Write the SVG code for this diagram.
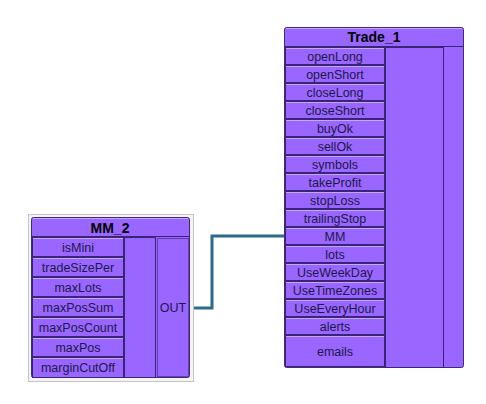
<svg xmlns="http://www.w3.org/2000/svg" width="486" height="404" viewBox="0 0 486 404">
<style>
.frame{fill:#9966ff;stroke:#3f2a80;stroke-width:1}
.btn{fill:#9966ff;stroke:#3a2478;stroke-width:1}
.hl{stroke:#c4a8ff;stroke-width:1}
.lbl{font-family:"Liberation Sans",Arial,sans-serif;font-size:12.5px;fill:#1e1848;text-anchor:middle}
.ttl{font-family:"Liberation Sans",Arial,sans-serif;font-size:14px;font-weight:bold;fill:#000;text-anchor:middle}
.col{fill:#9966ff;stroke:#3a2478;stroke-width:1}
.conn{fill:none;stroke:#2b6c8c;stroke-width:3}
</style>
<rect width="486" height="404" fill="#ffffff"/>
<g id="connectors">
<path class="conn" d="M190,308 H212 V236 H285"/>
</g>
<g id="MM_2">
<rect x="28.5" y="214.5" width="165" height="167" fill="#f4f4f4" stroke="#c4c4c4"/>
<rect class="frame" x="31.5" y="217.5" width="158" height="160" rx="2"/>
<line class="hl" x1="33" y1="218.5" x2="188" y2="218.5"/>
<line x1="31.5" y1="236.5" x2="189.5" y2="236.5" stroke="#3a2478"/>
<text class="ttl" x="110" y="233">MM_2</text>
<rect class="col" x="124.5" y="237.5" width="31" height="140"/>
<rect x="157.5" y="238.5" width="31" height="138" fill="#9966ff" stroke="#2a1a60" stroke-dasharray="1,1"/>
<text class="lbl" x="173" y="312">OUT</text>
<g>
<rect class="btn" x="32.5" y="237.5" width="91" height="19"/><line class="hl" x1="33" y1="238.5" x2="123" y2="238.5"/><text class="lbl" x="78" y="252">isMini</text>
<rect class="btn" x="32.5" y="257.5" width="91" height="19"/><line class="hl" x1="33" y1="258.5" x2="123" y2="258.5"/><text class="lbl" x="78" y="272">tradeSizePer</text>
<rect class="btn" x="32.5" y="277.5" width="91" height="19"/><line class="hl" x1="33" y1="278.5" x2="123" y2="278.5"/><text class="lbl" x="78" y="292">maxLots</text>
<rect class="btn" x="32.5" y="297.5" width="91" height="19"/><line class="hl" x1="33" y1="298.5" x2="123" y2="298.5"/><text class="lbl" x="78" y="312">maxPosSum</text>
<rect class="btn" x="32.5" y="317.5" width="91" height="19"/><line class="hl" x1="33" y1="318.5" x2="123" y2="318.5"/><text class="lbl" x="78" y="332">maxPosCount</text>
<rect class="btn" x="32.5" y="337.5" width="91" height="19"/><line class="hl" x1="33" y1="338.5" x2="123" y2="338.5"/><text class="lbl" x="78" y="352">maxPos</text>
<rect class="btn" x="32.5" y="357.5" width="91" height="20"/><line class="hl" x1="33" y1="358.5" x2="123" y2="358.5"/><text class="lbl" x="78" y="372">marginCutOff</text>
</g>
</g>
<g id="Trade_1">
<rect class="frame" x="284.5" y="27.5" width="179" height="340" rx="2"/>
<line class="hl" x1="286" y1="28.5" x2="462" y2="28.5"/>
<line x1="284.5" y1="46.5" x2="463.5" y2="46.5" stroke="#3a2478"/>
<text class="ttl" x="374" y="42">Trade_1</text>
<rect class="col" x="385.5" y="47.5" width="58" height="320"/>
<g>
<rect class="btn" x="285.5" y="47.5" width="99" height="17"/><line class="hl" x1="286" y1="48.5" x2="384" y2="48.5"/><text class="lbl" x="335" y="61">openLong</text>
<rect class="btn" x="285.5" y="65.5" width="99" height="17"/><line class="hl" x1="286" y1="66.5" x2="384" y2="66.5"/><text class="lbl" x="335" y="79">openShort</text>
<rect class="btn" x="285.5" y="83.5" width="99" height="17"/><line class="hl" x1="286" y1="84.5" x2="384" y2="84.5"/><text class="lbl" x="335" y="97">closeLong</text>
<rect class="btn" x="285.5" y="101.5" width="99" height="17"/><line class="hl" x1="286" y1="102.5" x2="384" y2="102.5"/><text class="lbl" x="335" y="115">closeShort</text>
<rect class="btn" x="285.5" y="119.5" width="99" height="17"/><line class="hl" x1="286" y1="120.5" x2="384" y2="120.5"/><text class="lbl" x="335" y="133">buyOk</text>
<rect class="btn" x="285.5" y="137.5" width="99" height="17"/><line class="hl" x1="286" y1="138.5" x2="384" y2="138.5"/><text class="lbl" x="335" y="151">sellOk</text>
<rect class="btn" x="285.5" y="155.5" width="99" height="17"/><line class="hl" x1="286" y1="156.5" x2="384" y2="156.5"/><text class="lbl" x="335" y="169">symbols</text>
<rect class="btn" x="285.5" y="173.5" width="99" height="17"/><line class="hl" x1="286" y1="174.5" x2="384" y2="174.5"/><text class="lbl" x="335" y="187">takeProfit</text>
<rect class="btn" x="285.5" y="191.5" width="99" height="17"/><line class="hl" x1="286" y1="192.5" x2="384" y2="192.5"/><text class="lbl" x="335" y="205">stopLoss</text>
<rect class="btn" x="285.5" y="209.5" width="99" height="17"/><line class="hl" x1="286" y1="210.5" x2="384" y2="210.5"/><text class="lbl" x="335" y="223">trailingStop</text>
<rect class="btn" x="285.5" y="227.5" width="99" height="17"/><line class="hl" x1="286" y1="228.5" x2="384" y2="228.5"/><text class="lbl" x="335" y="241">MM</text>
<rect class="btn" x="285.5" y="245.5" width="99" height="17"/><line class="hl" x1="286" y1="246.5" x2="384" y2="246.5"/><text class="lbl" x="335" y="259">lots</text>
<rect class="btn" x="285.5" y="263.5" width="99" height="17"/><line class="hl" x1="286" y1="264.5" x2="384" y2="264.5"/><text class="lbl" x="335" y="277">UseWeekDay</text>
<rect class="btn" x="285.5" y="281.5" width="99" height="17"/><line class="hl" x1="286" y1="282.5" x2="384" y2="282.5"/><text class="lbl" x="335" y="295">UseTimeZones</text>
<rect class="btn" x="285.5" y="299.5" width="99" height="17"/><line class="hl" x1="286" y1="300.5" x2="384" y2="300.5"/><text class="lbl" x="335" y="313">UseEveryHour</text>
<rect class="btn" x="285.5" y="317.5" width="99" height="17"/><line class="hl" x1="286" y1="318.5" x2="384" y2="318.5"/><text class="lbl" x="335" y="331">alerts</text>
<rect class="btn" x="285.5" y="335.5" width="99" height="31"/><line class="hl" x1="286" y1="336.5" x2="384" y2="336.5"/><text class="lbl" x="335" y="356">emails</text>
</g>
</g>
</svg>
